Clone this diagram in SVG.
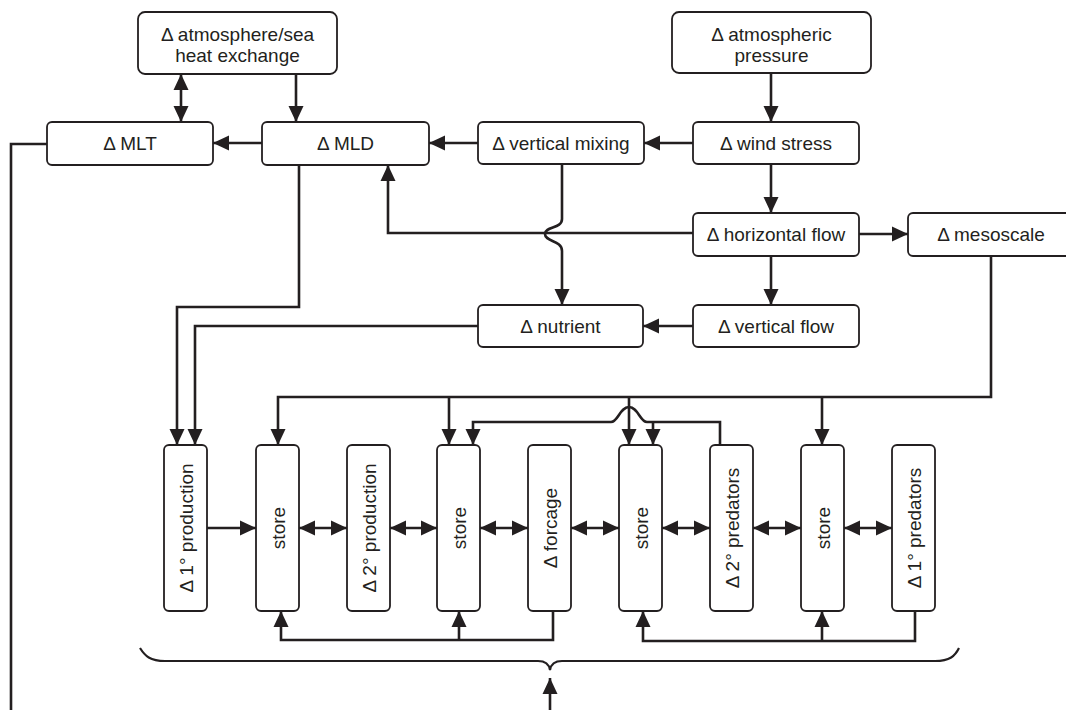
<svg xmlns="http://www.w3.org/2000/svg" width="1066" height="710" viewBox="0 0 1066 710">
<style>
.box{fill:#fff;stroke:#231f20;stroke-width:1.8}
.t{font-family:"Liberation Sans",Arial,Helvetica,sans-serif;font-size:19px;fill:#231f20;text-anchor:middle}
.c{fill:none;stroke:#231f20;stroke-width:2.6;stroke-linejoin:miter}
.a{marker-end:url(#ah)}
.d{marker-start:url(#ah);marker-end:url(#ah)}
.brace{fill:none;stroke:#231f20;stroke-width:2.2}
</style>
<defs>
<marker id="ah" markerUnits="userSpaceOnUse" markerWidth="16" markerHeight="16" viewBox="0 0 16 16" refX="16" refY="8" orient="auto-start-reverse">
<path d="M0,0.5 L16,8 L0,15.5 Z" fill="#231f20"/>
</marker>
</defs>
<rect width="1066" height="710" fill="#fff"/>

<g id="connectors">
<path class="c d" d="M181,74 V122"/>
<path class="c a" d="M296,74 V122"/>
<path class="c a" d="M771,73 V122"/>
<path class="c a" d="M693,143 H644"/>
<path class="c a" d="M478,143 H429"/>
<path class="c a" d="M262,143 H213"/>
<path class="c a" d="M771,164 V213"/>
<path class="c a" d="M859,234 H908"/>
<path class="c a" d="M693,233 H388 V165"/>
<path class="c a" d="M562,164 V219 C562,229 545,226 545,234 C545,242 562,240 562,251 V305"/>
<path class="c a" d="M771,256 V305"/>
<path class="c a" d="M693,326 H643"/>
<path class="c a" d="M478,326 H195 V445"/>
<path class="c a" d="M299,165 V307 H177 V445"/>
<path class="c" d="M47,144 H11 V710"/>
<path class="c a" d="M991,256 V397 H278 V445"/>
<path class="c a" d="M449,397 V445"/>
<path class="c a" d="M629,397 V445"/>
<path class="c a" d="M822,397 V445"/>
<path class="c a" d="M720,445 V422 H647 C640,422 638,407 629,407 C620,407 618,422 611,422 H473 V445"/>
<path class="c a" d="M653,422 V445"/>
<path class="c a" d="M207,528 H256"/>
<path class="c d" d="M299,528 H347"/>
<path class="c d" d="M390,528 H437"/>
<path class="c d" d="M480,528 H528"/>
<path class="c d" d="M571,528 H619"/>
<path class="c d" d="M662,528 H710"/>
<path class="c d" d="M753,528 H801"/>
<path class="c d" d="M844,528 H892"/>
<path class="c a" d="M553,611 V640 H281 V611"/>
<path class="c a" d="M459,640 V611"/>
<path class="c a" d="M915,611 V641 H643 V611"/>
<path class="c a" d="M822,641 V611"/>
<path class="brace" d="M140,648 C145,656 150,661 165,661 H538 C545,661 549,664 550,670 C551,664 555,661 562,661 H935 C950,661 955,656 959,648"/>
<path class="c a" d="M550,710 V678"/>
</g>

<g id="heat"><rect class="box" x="138" y="12" width="199" height="62" rx="7"/><text class="t" x="237.5" y="41">Δ atmosphere/sea</text><text class="t" x="237.5" y="62">heat exchange</text></g>
<g id="pressure"><rect class="box" x="672" y="12" width="199" height="61" rx="7"/><text class="t" x="771.5" y="41">Δ atmospheric</text><text class="t" x="771.5" y="62">pressure</text></g>
<g id="mlt"><rect class="box" x="47" y="122" width="166" height="43" rx="5"/><text class="t" x="130" y="150">Δ MLT</text></g>
<g id="mld"><rect class="box" x="262" y="122" width="167" height="43" rx="5"/><text class="t" x="345.5" y="150">Δ MLD</text></g>
<g id="vmix"><rect class="box" x="478" y="122" width="166" height="42" rx="5"/><text class="t" x="561" y="150">Δ vertical mixing</text></g>
<g id="wind"><rect class="box" x="693" y="122" width="166" height="42" rx="5"/><text class="t" x="776" y="150">Δ wind stress</text></g>
<g id="hflow"><rect class="box" x="693" y="213" width="166" height="43" rx="5"/><text class="t" x="776" y="241">Δ horizontal flow</text></g>
<g id="meso"><rect class="box" x="908" y="213" width="166" height="43" rx="5"/><text class="t" x="991" y="241">Δ mesoscale</text></g>
<g id="nutrient"><rect class="box" x="478" y="305" width="165" height="42" rx="5"/><text class="t" x="560.5" y="333">Δ nutrient</text></g>
<g id="vflow"><rect class="box" x="693" y="305" width="166" height="42" rx="5"/><text class="t" x="776" y="333">Δ vertical flow</text></g>

<g id="prod1"><rect class="box" x="164" y="445" width="43" height="166" rx="5"/><text class="t" transform="translate(185.5,528) rotate(-90)" x="0" y="7">Δ 1° production</text></g>
<g id="store1"><rect class="box" x="256" y="445" width="43" height="166" rx="5"/><text class="t" transform="translate(277.5,528) rotate(-90)" x="0" y="7">store</text></g>
<g id="prod2"><rect class="box" x="347" y="445" width="43" height="166" rx="5"/><text class="t" transform="translate(368.5,528) rotate(-90)" x="0" y="7">Δ 2° production</text></g>
<g id="store2"><rect class="box" x="437" y="445" width="43" height="166" rx="5"/><text class="t" transform="translate(458.5,528) rotate(-90)" x="0" y="7">store</text></g>
<g id="forcage"><rect class="box" x="528" y="445" width="43" height="166" rx="5"/><text class="t" transform="translate(549.5,528) rotate(-90)" x="0" y="7">Δ forcage</text></g>
<g id="store3"><rect class="box" x="619" y="445" width="43" height="166" rx="5"/><text class="t" transform="translate(640.5,528) rotate(-90)" x="0" y="7">store</text></g>
<g id="pred2"><rect class="box" x="710" y="445" width="43" height="166" rx="5"/><text class="t" transform="translate(731.5,528) rotate(-90)" x="0" y="7">Δ 2° predators</text></g>
<g id="store4"><rect class="box" x="801" y="445" width="43" height="166" rx="5"/><text class="t" transform="translate(822.5,528) rotate(-90)" x="0" y="7">store</text></g>
<g id="pred1"><rect class="box" x="892" y="445" width="43" height="166" rx="5"/><text class="t" transform="translate(913.5,528) rotate(-90)" x="0" y="7">Δ 1° predators</text></g>
</svg>
